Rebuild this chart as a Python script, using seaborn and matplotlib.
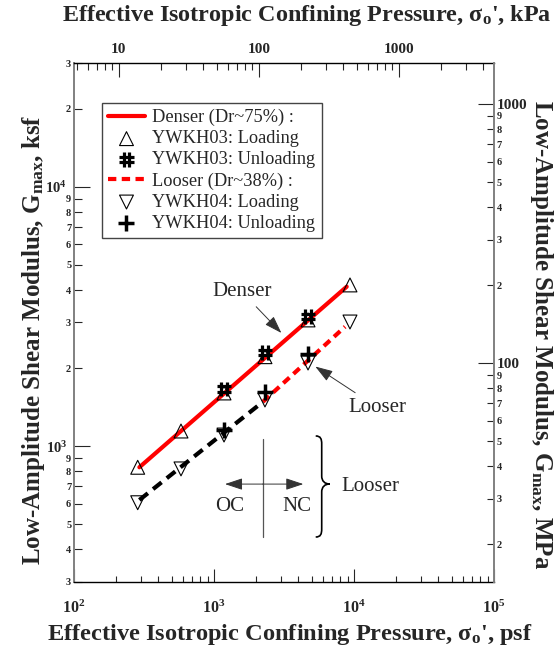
import math
import matplotlib
matplotlib.use("Agg")
import matplotlib.pyplot as plt
import matplotlib.ticker as mticker
from matplotlib.path import Path
from matplotlib.patches import PathPatch
import seaborn as sns

PSF_PER_KPA = 20.885
MPA_PER_KSF = 0.04788

# confining pressure steps, psf
pressure_psf = [285, 581, 1179, 2312, 4695, 9360]
unload_psf = [1179, 2312, 4695]

# Gmax in ksf
denser_loading = [829, 1144, 1604, 2214, 3069, 4188]
denser_unloading = [1662, 2294, 3159]
looser_loading = [605, 817, 1104, 1507, 2093, 3013]
looser_unloading = [1154, 1622, 2268]

# trend lines
denser_fit_psf = [293, 8870]
denser_fit_ksf = [829, 4124]
looser_oc_psf = [293, 2239]
looser_oc_ksf = [620, 1484]
looser_nc_psf = [2239, 8630]
looser_nc_ksf = [1484, 2890]

# OC / NC marker (psf, ksf)
ocnc_x = 2227
ocnc_y = [447, 1063]
ocnc_arrow_y = 714
ocnc_arrow_x = [1198, 4345]

sns.set_style("ticks")
plt.rcParams["font.family"] = ["Liberation Serif", "DejaVu Serif"]
plt.rcParams["font.weight"] = "bold"
plt.rcParams["axes.labelweight"] = "bold"
plt.rcParams["mathtext.fontset"] = "custom"
plt.rcParams["mathtext.rm"] = "Liberation Serif:bold"
plt.rcParams["mathtext.it"] = "Liberation Serif:italic:bold"
plt.rcParams["mathtext.bf"] = "Liberation Serif:bold"
plt.rcParams["mathtext.default"] = "rm"

# upright hash marker
hash_marker = Path(
    [(-0.35, -1), (-0.35, 1), (0.35, -1), (0.35, 1),
     (-1, -0.35), (1, -0.35), (-1, 0.35), (1, 0.35)],
    [Path.MOVETO, Path.LINETO] * 4)

fig = plt.figure(figsize=(5.54, 6.49), dpi=100)
ax = fig.add_axes([0.1336, 0.1037, 0.7581, 0.7988])
ax.set_xscale("log")
ax.set_yscale("log")
ax.set_xlim(1e2, 1e5)
ax.set_ylim(300, 30000)

# lines
sns.lineplot(x=denser_fit_psf, y=denser_fit_ksf, ax=ax, color="red", lw=3,
             estimator=None, sort=False, label="Denser (Dr~75%) :", zorder=2)
sns.lineplot(x=looser_oc_psf, y=looser_oc_ksf, ax=ax, color="black", lw=3,
             estimator=None, sort=False, linestyle=(0, (2.6, 1.6)), zorder=2)
sns.lineplot(x=looser_nc_psf, y=looser_nc_ksf, ax=ax, color="red", lw=3,
             estimator=None, sort=False, linestyle=(0, (2.0, 1.3)),
             label="Looser (Dr~38%) :", zorder=2)

# points
sns.scatterplot(x=pressure_psf, y=denser_loading, ax=ax, marker="^", s=100,
                facecolor="none", edgecolor="black", linewidth=0.8,
                label="YWKH03: Loading", zorder=3)
sns.scatterplot(x=unload_psf, y=denser_unloading, ax=ax, marker=hash_marker, s=110,
                facecolor="none", edgecolor="black", linewidth=2.3,
                label="YWKH03: Unloading", zorder=4)
sns.scatterplot(x=pressure_psf, y=looser_loading, ax=ax, marker="v", s=100,
                facecolor="none", edgecolor="black", linewidth=0.8,
                label="YWKH04: Loading", zorder=3)
sns.scatterplot(x=unload_psf, y=looser_unloading, ax=ax, marker="+", s=130,
                color="black", linewidth=2.5,
                label="YWKH04: Unloading", zorder=4)

handles, labels = ax.get_legend_handles_labels()
order = ["Denser (Dr~75%) :", "YWKH03: Loading", "YWKH03: Unloading",
         "Looser (Dr~38%) :", "YWKH04: Loading", "YWKH04: Unloading"]
hmap = dict(zip(labels, handles))
leg = ax.legend([hmap[k] for k in order], order, loc="upper left",
                bbox_to_anchor=(0.066, 0.924), borderaxespad=0,
                prop={"size": 13.2, "weight": "normal"}, frameon=True,
                fancybox=False, edgecolor="#444444", framealpha=1,
                borderpad=0.35, labelspacing=0.22, handlelength=2.0,
                handletextpad=0.4)
leg.get_frame().set_linewidth(1.0)

# annotations
txt = dict(fontsize=15, fontweight="normal", ha="center", va="center")
arr = dict(arrowstyle="-|>,head_length=0.9,head_width=0.3", color="#333333",
           lw=0.7, mutation_scale=12)
ax.annotate("Denser", xy=(3126, 2685), xytext=(1585, 3934), arrowprops=arr, **txt)
ax.annotate("Looser", xy=(5093, 2056), xytext=(14590, 1416), arrowprops=arr, **txt)
ax.plot([ocnc_x, ocnc_x], ocnc_y, color="#555555", lw=0.9)
for xe in ocnc_arrow_x:
    ax.annotate("", xy=(xe, ocnc_arrow_y), xytext=(ocnc_x, ocnc_arrow_y),
                arrowprops=dict(arr, shrinkA=0, shrinkB=0))
ax.text(1301, 584, "OC", **txt)
ax.text(3899, 584, "NC", **txt)
ax.text(13000, 696, "Looser", **txt)

# curly brace, drawn in axes fraction from pixel offsets
AXW, AXH = 420.0, 518.4
bx, by = (321.7 - 74) / AXW, (581.7 - 484) / AXH


def bp(dx, dy):
    return (bx + dx / AXW, by - dy / AXH)


verts = [bp(-6, -48), bp(-1, -48), bp(0, -45), bp(0, -40),
         bp(0, -8),
         bp(0, -3), bp(3, 0), bp(8, 0),
         bp(3, 0), bp(0, 3), bp(0, 8),
         bp(0, 45),
         bp(0, 50), bp(-1, 53), bp(-6, 53)]
codes = [Path.MOVETO, Path.CURVE4, Path.CURVE4, Path.CURVE4,
         Path.LINETO,
         Path.CURVE4, Path.CURVE4, Path.CURVE4,
         Path.CURVE4, Path.CURVE4, Path.CURVE4,
         Path.LINETO,
         Path.CURVE4, Path.CURVE4, Path.CURVE4]
ax.add_patch(PathPatch(Path(verts, codes), transform=ax.transAxes,
                       fill=False, lw=1.2, color="black", clip_on=False))

# bottom / left axes (psf, ksf)
ax.xaxis.set_major_locator(mticker.FixedLocator([1e2, 1e3, 1e4, 1e5]))
ax.xaxis.set_minor_locator(mticker.LogLocator(subs=range(2, 10)))
ax.xaxis.set_major_formatter(mticker.FuncFormatter(
    lambda v, p: r"$10^{%d}$" % round(math.log10(v))))
ax.xaxis.set_minor_formatter(mticker.NullFormatter())

y_major = [1e3, 1e4]
y_minor = [300, 400, 500, 600, 700, 800, 900,
           2000, 3000, 4000, 5000, 6000, 7000, 8000, 9000, 20000, 30000]
ax.yaxis.set_major_locator(mticker.FixedLocator(y_major))
ax.yaxis.set_minor_locator(mticker.FixedLocator(y_minor))
ax.yaxis.set_major_formatter(mticker.FixedFormatter([r"$10^{3}$", r"$10^{4}$"]))
ax.yaxis.set_minor_formatter(mticker.FixedFormatter(
    [str(int(v))[0] for v in y_minor]))

ax.tick_params(axis="x", which="major", direction="in", length=9.5, width=0.8,
               labelsize=11.5, pad=13)
ax.tick_params(axis="x", which="minor", direction="in", length=4.5, width=0.8)
ax.tick_params(axis="y", which="major", direction="in", length=11.5, width=0.8,
               labelsize=10.5, pad=5)
ax.tick_params(axis="y", which="minor", direction="in", length=6, width=0.8,
               labelsize=7.5, pad=2)
ax.tick_params(top=False, right=False, which="both")

# top axis, kPa
ax_t = ax.twiny()
ax_t.set_xscale("log")
ax_t.set_xlim(1e2 / PSF_PER_KPA, 1e5 / PSF_PER_KPA)
ax_t.xaxis.set_major_locator(mticker.FixedLocator([10, 100, 1000]))
ax_t.xaxis.set_minor_locator(mticker.LogLocator(subs=range(2, 10)))
ax_t.xaxis.set_major_formatter(mticker.FormatStrFormatter("%d"))
ax_t.xaxis.set_minor_formatter(mticker.NullFormatter())
ax_t.tick_params(axis="x", which="major", direction="in", length=10, width=0.8,
                 labelsize=11, pad=5)
ax_t.tick_params(axis="x", which="minor", direction="in", length=5, width=0.8)

# right axis, MPa
ax_r = ax.twinx()
ax_r.set_yscale("log")
ax_r.set_ylim(300 * MPA_PER_KSF, 30000 * MPA_PER_KSF)
r_minor = [20, 30, 40, 50, 60, 70, 80, 90, 200, 300, 400, 500, 600, 700, 800, 900]
ax_r.yaxis.set_major_locator(mticker.FixedLocator([100, 1000]))
ax_r.yaxis.set_minor_locator(mticker.FixedLocator(r_minor))
ax_r.yaxis.set_major_formatter(mticker.FormatStrFormatter("%d"))
ax_r.yaxis.set_minor_formatter(mticker.FixedFormatter(
    [str(v)[0] for v in r_minor]))
ax_r.tick_params(axis="y", which="major", direction="in", length=11.5, width=0.8,
                 labelsize=11, pad=2)
ax_r.tick_params(axis="y", which="minor", direction="in", length=5, width=0.8,
                 labelsize=7.5, pad=2)

for a in (ax, ax_t, ax_r):
    for lbl in (a.get_xticklabels(which="both") + a.get_yticklabels(which="both")):
        lbl.set_fontweight("bold")

# spines
for a in (ax, ax_t, ax_r):
    for s in a.spines.values():
        s.set_visible(False)
ax.spines["left"].set_visible(True)
ax.spines["left"].set_color("#808080")
ax.spines["left"].set_linewidth(1.4)
ax.spines["bottom"].set_visible(True)
ax.spines["bottom"].set_color("black")
ax.spines["bottom"].set_linewidth(1.0)
ax_t.spines["top"].set_visible(True)
ax_t.spines["top"].set_color("black")
ax_t.spines["top"].set_linewidth(1.0)
ax_r.spines["right"].set_visible(True)
ax_r.spines["right"].set_color("#808080")
ax_r.spines["right"].set_linewidth(1.4)

# axis titles
ax.set_xlabel("Effective Isotropic Confining Pressure, \u03c3$_{o}$', psf",
              fontsize=17.6, fontweight="bold")
ax.xaxis.set_label_coords(0.514, -0.101)
ax.xaxis.label.set_va("center")
ax_t.set_xlabel("Effective Isotropic Confining Pressure, \u03c3$_{o}$', kPa",
                fontsize=17.4, fontweight="bold")
ax_t.xaxis.set_label_coords(0.555, 1.093)
ax_t.xaxis.label.set_va("center")
ax.set_ylabel("Low-Amplitude Shear Modulus, G$_{max}$, ksf",
              fontsize=18, fontweight="bold")
ax.yaxis.set_label_coords(-0.096, 0.466)
ax.yaxis.label.set_va("center")
ax_r.set_ylabel("Low-Amplitude Shear Modulus, G$_{max}$, MPa",
                fontsize=18, fontweight="bold", rotation=270)
ax_r.yaxis.set_label_coords(1.112, 0.476)
ax_r.yaxis.label.set_va("center")

fig.savefig("out.png", dpi=100)
